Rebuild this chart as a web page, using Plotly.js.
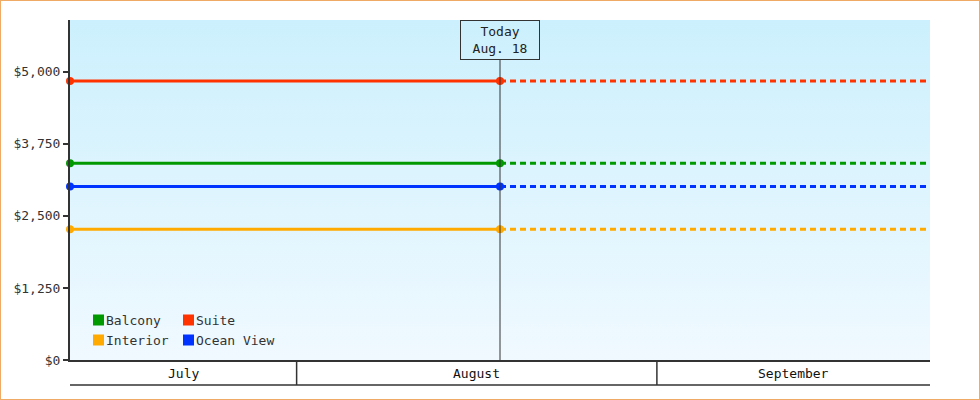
<!DOCTYPE html>
<html>
<head>
<meta charset="utf-8">
<script src="https://cdn.plot.ly/plotly-3.0.1.min.js"></script>
<style>
    body { margin: 0; background: #fff; }
    #wrap { position: relative; width: 980px; height: 400px; }
    #chart { position: absolute; left: 0; top: 0; width: 980px; height: 400px; }
    #frame {
        position: absolute; left: 0; top: 0; width: 980px; height: 400px;
        box-sizing: border-box; border: 1px solid #efab66; pointer-events: none;
    }
</style>
</head>
<body>
<div id="wrap">
    <div id="chart"></div>
    <div id="frame"></div>
</div>
<script>
// Cabin prices, flat until today then projected (dotted)
const categories = ['Balcony', 'Suite', 'Interior', 'Ocean View'];
const prices = [3415, 4840, 2270, 3010];
const seriesColors = ['#009900', '#ff3300', '#ffaa00', '#0033ff'];

const rangeStart = '2024-07-12 12:00';
const today = '2024-08-18 12:00';
const rangeEnd = '2024-09-24 12:00';
const todayLabel = ['Today', 'Aug. 18'];

const monthStarts = ['2024-07-01', '2024-08-01', '2024-09-01', '2024-10-01'];
const monthLabels = ['July', 'August', 'September'];

const yTicks = [0, 1250, 2500, 3750, 5000];
const yTickText = ['$0', '$1,250', '$2,500', '$3,750', '$5,000'];
const yMax = 5900;

// plot area in page pixels
const PLOT = { left: 70, right: 930, top: 20, bottom: 360 };
const FONT = 'DejaVu Sans Mono';
const INK = '#333';

const px2x = px => (px - PLOT.left) / (PLOT.right - PLOT.left);
const py2y = py => (PLOT.bottom - py) / (PLOT.bottom - PLOT.top);
const toMs = s => Date.parse(s.replace(' ', 'T') + (s.length > 10 ? ':00Z' : 'T00:00:00Z'));

const traces = [];
categories.forEach((name, i) => {
    traces.push({
        x: [rangeStart, today],
        y: [prices[i], prices[i]],
        mode: 'lines+markers',
        line: { color: seriesColors[i], width: 3 },
        marker: { color: seriesColors[i], size: 8 },
        cliponaxis: false,
        showlegend: false,
        hoverinfo: 'skip'
    });
    traces.push({
        x: [today, rangeEnd],
        y: [prices[i], prices[i]],
        mode: 'lines',
        line: { color: seriesColors[i], width: 3, dash: '6px,4px' },
        showlegend: false,
        hoverinfo: 'skip'
    });
});

const shapes = [];
const annotations = [];

// today marker line and label box
shapes.push({
    type: 'line', xref: 'x', yref: 'paper',
    x0: today, x1: today, y0: 0, y1: py2y(60),
    line: { color: INK, width: 1 }
});
annotations.push({
    xref: 'x', yref: 'paper', x: today, y: 1,
    xanchor: 'center', yanchor: 'top',
    text: todayLabel.join('<br>'),
    showarrow: false,
    width: 74, height: 34, borderpad: 2,
    bordercolor: INK, borderwidth: 1,
    font: { family: FONT, size: 13, color: '#222' }
});

// month band under the plot
const bandY = py2y(385);
shapes.push({
    type: 'line', xref: 'paper', yref: 'paper',
    x0: 0, x1: 1, y0: bandY, y1: bandY,
    line: { color: INK, width: 1.5 }
});
const startMs = toMs(rangeStart);
const endMs = toMs(rangeEnd);
monthLabels.forEach((label, i) => {
    const a = Math.max(toMs(monthStarts[i]), startMs);
    const b = Math.min(toMs(monthStarts[i + 1]), endMs);
    if (b <= a) return;
    if (toMs(monthStarts[i]) > startMs) {
        shapes.push({
            type: 'line', xref: 'x', yref: 'paper',
            x0: monthStarts[i], x1: monthStarts[i], y0: 0, y1: bandY,
            line: { color: INK, width: 1.5 }
        });
    }
    annotations.push({
        xref: 'x', yref: 'paper', x: (a + b) / 2, y: py2y(373),
        xanchor: 'center', yanchor: 'middle',
        text: label, showarrow: false,
        font: { family: FONT, size: 13, color: '#111' }
    });
});

// legend drawn as two rows of swatches
categories.forEach((name, i) => {
    const col = i % 2;
    const row = Math.floor(i / 2);
    const cx = 93 + col * 90;
    const cy = 320 + row * 20;
    shapes.push({
        type: 'rect', xref: 'paper', yref: 'paper',
        x0: px2x(cx), x1: px2x(cx + 11),
        y0: py2y(cy + 5.5), y1: py2y(cy - 5.5),
        fillcolor: seriesColors[i], line: { width: 0 }
    });
    annotations.push({
        xref: 'paper', yref: 'paper', x: px2x(cx + 11), y: py2y(cy),
        xanchor: 'left', yanchor: 'middle',
        text: name, showarrow: false,
        font: { family: FONT, size: 13, color: INK }
    });
});

const bgSvg = "<svg xmlns='http://www.w3.org/2000/svg' width='10' height='100' preserveAspectRatio='none'>" +
    "<defs><linearGradient id='g' x1='0' y1='0' x2='0' y2='1'>" +
    "<stop offset='0' stop-color='#ccf0fd'/><stop offset='1' stop-color='#f0f9ff'/>" +
    "</linearGradient></defs><rect width='10' height='100' fill='url(#g)'/></svg>";

const layout = {
    width: 980,
    height: 400,
    margin: { l: PLOT.left, r: 980 - PLOT.right, t: PLOT.top, b: 400 - PLOT.bottom },
    paper_bgcolor: 'rgba(0,0,0,0)',
    plot_bgcolor: 'rgba(0,0,0,0)',
    font: { family: FONT, size: 13, color: INK },
    showlegend: false,
    xaxis: {
        type: 'date',
        range: [rangeStart, rangeEnd],
        showgrid: false, zeroline: false,
        showticklabels: false, ticks: '',
        showline: true, linecolor: INK, linewidth: 1.5,
        fixedrange: true
    },
    yaxis: {
        range: [0, yMax],
        tickmode: 'array',
        tickvals: yTicks,
        ticktext: yTickText,
        ticks: 'outside', ticklen: 5, tickwidth: 2, tickcolor: INK,
        showgrid: false, zeroline: false,
        showline: true, linecolor: INK, linewidth: 2,
        fixedrange: true
    },
    images: [{
        source: 'data:image/svg+xml;base64,' + btoa(bgSvg),
        xref: 'paper', yref: 'paper', x: 0, y: 1, sizex: 1, sizey: 1,
        xanchor: 'left', yanchor: 'top', sizing: 'stretch', layer: 'below'
    }],
    shapes: shapes,
    annotations: annotations
};

Plotly.newPlot('chart', traces, layout, { staticPlot: true });
</script>
</body>
</html>
